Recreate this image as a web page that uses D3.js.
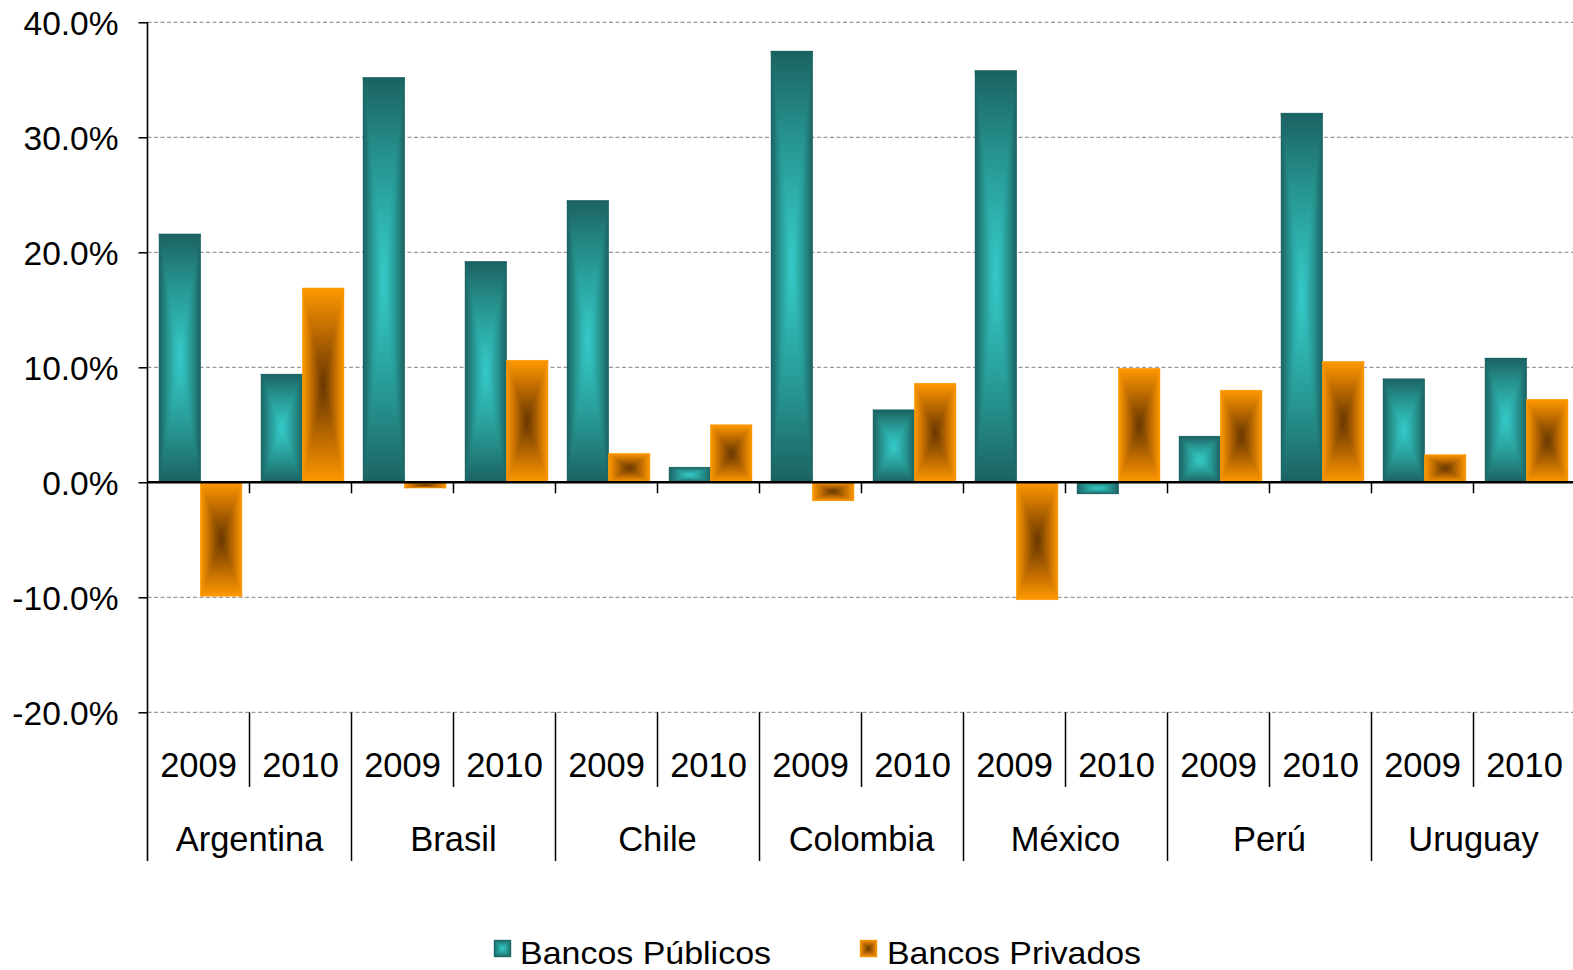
<!DOCTYPE html>
<html>
<head>
<meta charset="utf-8">
<script src="https://cdn.jsdelivr.net/npm/d3@7"></script>
<style>
    html, body { margin: 0; padding: 0; background: #fff; }
    svg text { font-family: "Liberation Sans", Arial, sans-serif; fill: #000; }
</style>
</head>
<body>
<svg id="chart" width="1573" height="970"></svg>
<script>
// Chart data
const countries = ['Argentina', 'Brasil', 'Chile', 'Colombia', 'México', 'Perú', 'Uruguay'];
const years = ['2009', '2010'];
const publicos = [21.6, 9.4, 35.2, 19.2, 24.5, 1.3, 37.5, 6.3, 35.8, -1.0, 4.0, 32.1, 9.0, 10.8];
const privados = [-9.9, 16.9, -0.5, 10.6, 2.5, 5.0, -1.6, 8.6, -10.2, 9.9, 8.0, 10.5, 2.4, 7.2];
const yTicks = [-20, -10, 0, 10, 20, 30, 40];
const seriesNames = ['Bancos Públicos', 'Bancos Privados'];

// Gradient colours (edge -> centre)
const palette = {
    pub: { edge: '#1b6262', mid: '#26938f', center: '#36cecc' },
    priv: { edge: '#ff9900', mid: '#c46f00', center: '#653500' }
};

const svg = d3.select('#chart');
const left = 147.5;
const slotW = 102;

// Slots: one per country/year pair
const slots = [];
countries.forEach(c => years.forEach(yr => slots.push(c + '|' + yr)));

const x = d3.scaleBand()
    .domain(slots)
    .range([left, left + slots.length * slotW]);

const xInner = d3.scaleBand()
    .domain(['pub', 'priv'])
    .range([11.5, 94.5]);

const y = d3.scaleLinear()
    .domain([-20, 40])
    .range([712.3, 22.3]);

const rows = slots.map((s, i) => ({ key: s, pub: publicos[i], priv: privados[i] }));

// Gradients for the "from centre" rectangle fill, one per side
const defs = svg.append('defs');
const sides = {
    top: [0, 0, 0, 1],
    bottom: [0, 1, 0, 0],
    left: [0, 0, 1, 0],
    right: [1, 0, 0, 0]
};
Object.keys(palette).forEach(k => {
    Object.keys(sides).forEach(side => {
        const [x1, y1, x2, y2] = sides[side];
        const grad = defs.append('linearGradient')
            .attr('id', `g-${k}-${side}`)
            .attr('x1', x1).attr('y1', y1)
            .attr('x2', x2).attr('y2', y2);
        grad.append('stop').attr('offset', 0).attr('stop-color', palette[k].edge);
        grad.append('stop').attr('offset', 0.4).attr('stop-color', palette[k].mid);
        grad.append('stop').attr('offset', 1).attr('stop-color', palette[k].center);
    });
});

/**
 * Draw a rectangle as four triangles, each shaded toward the centre
 */
function shadedRect(parent, k, x0, y0, w, h) {
    const x1 = x0 + w, y1 = y0 + h;
    const cx = x0 + w / 2, cy = y0 + h / 2;
    const g = parent.append('g');
    g.append('rect')
        .attr('x', x0).attr('y', y0).attr('width', w).attr('height', h)
        .attr('fill', palette[k].edge);
    const tris = {
        top: [[x0, y0], [x1, y0], [cx, cy]],
        bottom: [[x0, y1], [x1, y1], [cx, cy]],
        left: [[x0, y0], [x0, y1], [cx, cy]],
        right: [[x1, y0], [x1, y1], [cx, cy]]
    };
    Object.keys(tris).forEach(side => {
        g.append('path')
            .attr('d', 'M' + tris[side].map(p => p.join(',')).join('L') + 'Z')
            .attr('fill', `url(#g-${k}-${side})`)
            .attr('stroke', `url(#g-${k}-${side})`)
            .attr('stroke-width', 0.4);
    });
    return g;
}

// Grid lines
const right = 1573;
svg.append('g')
    .selectAll('line')
    .data(yTicks.filter(d => d !== 0))
    .enter().append('line')
    .attr('x1', left).attr('x2', right)
    .attr('y1', d => y(d)).attr('y2', d => y(d))
    .attr('stroke', '#9a9a9a')
    .attr('stroke-width', 1.3)
    .attr('stroke-dasharray', '4,2.5');

// Bars
const barLayer = svg.append('g');
rows.forEach(r => {
    ['pub', 'priv'].forEach(k => {
        const v = r[k];
        const bx = x(r.key) + xInner(k);
        const top = Math.min(y(v), y(0));
        const h = Math.abs(y(v) - y(0));
        shadedRect(barLayer, k, bx, top, xInner.bandwidth(), h);
    });
});

// Y axis
const yAxis = svg.append('g')
    .attr('transform', `translate(${left},0)`)
    .call(d3.axisLeft(y)
        .tickValues(yTicks)
        .tickFormat(d => d.toFixed(1) + '%')
        .tickSize(9)
        .tickPadding(20));
yAxis.select('.domain').remove();
yAxis.selectAll('line').attr('stroke', '#000').attr('stroke-width', 1.5);
yAxis.selectAll('text')
    .attr('font-family', '"Liberation Sans", Arial, sans-serif')
    .attr('font-size', 33.5)
    .attr('dy', '0.36em');

// Vertical axis line, extending down through the category labels
svg.append('line')
    .attr('x1', left).attr('x2', left)
    .attr('y1', y(40)).attr('y2', 861)
    .attr('stroke', '#000').attr('stroke-width', 1.6);

// Zero line and its ticks
svg.append('line')
    .attr('x1', left).attr('x2', right)
    .attr('y1', y(0)).attr('y2', y(0))
    .attr('stroke', '#000').attr('stroke-width', 2.4);

svg.append('g')
    .selectAll('line')
    .data(slots.slice(1))
    .enter().append('line')
    .attr('x1', d => x(d)).attr('x2', d => x(d))
    .attr('y1', y(0)).attr('y2', y(0) + 11)
    .attr('stroke', '#000').attr('stroke-width', 1.5);

// Category axis: year separators and labels
svg.append('g')
    .selectAll('line')
    .data(slots.slice(1))
    .enter().append('line')
    .attr('x1', d => x(d)).attr('x2', d => x(d))
    .attr('y1', y(-20))
    .attr('y2', d => d.endsWith(years[0]) ? 861 : 787)
    .attr('stroke', '#000').attr('stroke-width', 1.5);

svg.append('g')
    .selectAll('text')
    .data(slots)
    .enter().append('text')
    .attr('x', d => x(d) + slotW / 2)
    .attr('y', 777)
    .attr('text-anchor', 'middle')
    .attr('font-size', 34.5)
    .text(d => d.split('|')[1]);

svg.append('g')
    .selectAll('text')
    .data(countries)
    .enter().append('text')
    .attr('x', d => x(d + '|' + years[0]) + slotW)
    .attr('y', 851)
    .attr('text-anchor', 'middle')
    .attr('font-size', 34.5)
    .text(d => d);

// Legend
const legend = [
    { k: 'pub', name: seriesNames[0], mx: 494, tx: 520, tw: 251 },
    { k: 'priv', name: seriesNames[1], mx: 860, tx: 887, tw: 254 }
];
legend.forEach(l => {
    shadedRect(svg, l.k, l.mx, 940, 17, 17);
    svg.append('text')
        .attr('x', l.tx)
        .attr('y', 964)
        .attr('font-size', 32)
        .attr('textLength', l.tw)
        .attr('lengthAdjust', 'spacingAndGlyphs')
        .text(l.name);
});
</script>
</body>
</html>
